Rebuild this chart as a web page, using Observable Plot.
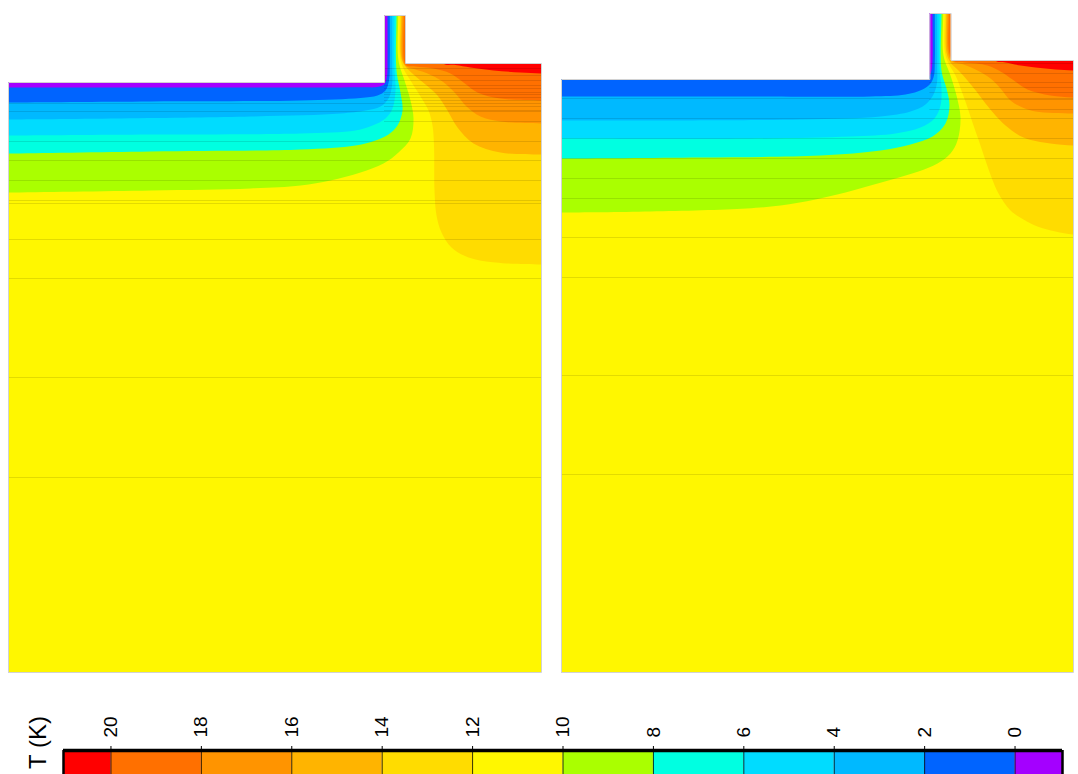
<!DOCTYPE html>
<html><head><meta charset="utf-8">
<script src="https://cdn.jsdelivr.net/npm/d3@7"></script>
<script src="https://cdn.jsdelivr.net/npm/@observablehq/plot@0.6"></script>
<style>
html,body{margin:0;padding:0;background:#fff;}
#fig{position:relative;width:1078px;height:774px;overflow:hidden;font-family:"Liberation Sans",Arial,sans-serif;}
#fig svg{position:absolute;left:0;}
</style></head><body><div id="fig"></div>
<script>
// ---------- temperature bands (K) ----------
const levels = [0, 2, 4, 6, 8, 10, 12, 14, 16, 18, 20];
const bandColors = ["#a400ff", "#0064ff", "#00b9ff", "#00dcff", "#00ffe1", "#aaff00",
                    "#fff700", "#ffdc00", "#ffb400", "#ff9400", "#ff7000", "#ff0000"];
const barMin = -1.05, barMax = 21.05;
const farFieldT = 11;

// ---------- panel 1 geometry (figure units) ----------
const p1Box = [8, 541, 15, 672];        // left, right, top, bottom
const p1Tops = [82, 63];                // top of cold part, top of warm part
const p1Stem = [384, 405];
// isotherms, panel 1 (cold side: from stem to left edge)
const p1Iso0  = [[387,15],[387,60],[386.5,76],[384,83.5],[378,86.3],[360,86.8],[200,87],[8,87]];
const p1Iso2  = [[389.3,15],[389.3,62],[388.5,80],[385,90],[377,95],[360,97.5],[300,100],[150,101],[8,102]];
const p1Iso4  = [[391.7,15],[391.7,65],[391.5,85],[388,98],[380,106],[365,110],[340,113],[250,116],[8,119]];
const p1Iso6  = [[394,15],[394,68],[395,90],[392,108],[385,118],[372,125],[355,130],[300,133],[150,134],[8,135]];
const p1Iso8  = [[396,15],[396,70],[400,92],[402,110],[397,125],[388,134],[375,140],[355,145],[300,149],[150,151],[8,153]];
const p1Iso10 = [[397.7,15],[398,60],[404,80],[410,100],[413,118],[410,138],[398,152],[383,163],[360,172],[330,180],[300,185],[250,188],[150,190],[8,192]];
// warm side: from stem / top edge to right edge
const p1Iso12 = [[399.3,15],[399.5,55],[402,66],[410,80],[420,96],[428,110],[432,125],[433.5,145],[434,190],[436,215],[441,232],[451,247],[468,257],[495,262],[541,264]];
const p1Iso14 = [[400.7,15],[401,58],[405,66],[413,74],[425,84],[437,95],[447,110],[457,127],[473,143],[500,152],[541,154]];
const p1Iso16 = [[402,15],[402.3,60],[406,66],[415,69],[427,73],[442,81],[455,93],[466,106],[480,116],[500,121],[541,123]];
const p1Iso18 = [[403.3,15],[403.5,60],[406,65],[415,66],[433,68],[450,73],[463,82],[477,92],[500,98],[541,100]];
const p1Iso20 = [[443,63],[455,64.5],[470,67],[493,70],[520,72],[541,73]];
const p1LinesFull  = [103, 111, 141, 160, 180, 200, 203, 239, 278, 377, 477];
const p1LinesRight = [68, 75, 80, 85, 88, 92, 94, 97, 100, 106, 110, 121];

// ---------- panel 2 geometry ----------
const p2Box = [561, 1073, 13, 672];
const p2Tops = [79, 60];
const p2Stem = [929.3, 950.7];
const p2Iso0  = [[932,13],[932,60],[931,70],[928,76],[900,76]];
const p2Iso2  = [[934.3,13],[934.3,62],[933.5,75],[930,83],[922,89],[905,94],[870,96],[750,96],[561,96]];
const p2Iso4  = [[936.7,13],[936.7,65],[936.5,82],[933,94],[925,104],[910,111],[880,116],[800,119],[561,120]];
const p2Iso6  = [[939,13],[939,68],[941,88],[940,105],[934,118],[920,127],[895,133],[850,136],[750,138],[561,138]];
const p2Iso8  = [[941,13],[941,70],[946,88],[949,105],[945,123],[932,136],[910,144],[880,150],[820,155],[700,157],[561,158]];
const p2Iso10 = [[942.7,13],[943,55],[950,75],[956,95],[960,117],[957,140],[950,153],[937,163],[918,171],[895,178],[870,185],[845,192],[815,199],[780,205],[746,208],[650,211],[561,212]];
const p2Iso12 = [[944.3,13],[944.5,52],[948,63],[955,75],[962,93],[968,110],[973,125],[979,142],[985,160],[991,177],[998,193],[1010,210],[1023,219],[1037,226],[1055,231],[1073,234]];
const p2Iso14 = [[945.7,13],[946,52],[950,62],[958,70],[967,80],[976,91],[985,103],[995,115],[1005,125],[1023,137],[1050,143],[1073,145]];
const p2Iso16 = [[947,13],[947.5,52],[952,61],[963,64],[977,70],[990,78],[1000,88],[1010,100],[1022,107],[1035,111],[1073,113]];
const p2Iso18 = [[948.3,13],[948.8,52],[953,60.5],[965,62],[987,65],[1000,71],[1012,79],[1027,89],[1050,95],[1073,97]];
const p2Iso20 = [[995,60],[1005,62],[1020,65],[1035,67],[1055,69],[1073,70]];
const p2LinesFull  = [98, 118, 138, 158, 178, 198, 237, 277, 375, 474];
const p2LinesRight = [63, 73, 82, 87, 92, 99, 109];

// ---------- helpers ----------
function bandRows(isos, side, box) {
  const [L, R] = box;
  const rows = [];
  isos.forEach(([level, pts]) => {
    const v = side === "cold" ? level - 1 : level + 1;
    const [x0, y0] = pts[0];
    const yn = pts[pts.length - 1][1];
    const xMid = side === "cold" ? L - 20 : R + 20;
    const xOut = side === "cold" ? L - 40 : R + 40;
    const ring = [[x0, y0 - 60], [x0, y0 - 30], ...pts, [xMid, yn], [xOut, yn], [xOut, y0 - 60]];
    ring.forEach(([x, y]) => rows.push({id: side + level, x, y, v}));
  });
  return rows;
}

function panel(cfg) {
  const {box, tops, stem, cold, warm, linesFull, linesRight} = cfg;
  const [L, R, T, B] = box;
  const H = 690;
  const voids = [
    {x1: L - 4, x2: stem[0], y1: T - 6, y2: tops[0]},
    {x1: stem[1], x2: R + 4, y1: T - 6, y2: tops[1]},
    {x1: L - 4, x2: R + 4, y1: T - 12, y2: T}
  ];
  const outline = [[L,B],[L,tops[0]],[stem[0],tops[0]],[stem[0],T],[stem[1],T],[stem[1],tops[1]],[R,tops[1]],[R,B],[L,B]];
  return Plot.plot({
    width: 1078, height: H,
    marginLeft: L, marginRight: 1078 - R, marginTop: T, marginBottom: H - B,
    x: {domain: [L, R], range: [L, R], axis: null},
    y: {domain: [T, B], range: [T, B], axis: null},
    color: {type: "threshold", domain: levels, range: bandColors},
    style: {background: "transparent"},
    marks: [
      Plot.rect([{x1: L, x2: R, y1: T, y2: B, v: farFieldT}], {x1: "x1", x2: "x2", y1: "y1", y2: "y2", fill: "v", clip: true}),
      Plot.line(bandRows(cold, "cold", box), {x: "x", y: "y", z: "id", fill: "v", stroke: "none", curve: "catmull-rom", clip: true}),
      Plot.line(bandRows(warm, "warm", box), {x: "x", y: "y", z: "id", fill: "v", stroke: "none", curve: "catmull-rom", clip: true}),
      Plot.ruleY(linesFull, {y: d => d, x1: () => L, x2: () => R, stroke: "#000", strokeOpacity: 0.11, clip: true}),
      Plot.ruleY(linesRight, {y: d => d, x1: () => stem[0], x2: () => R, stroke: "#000", strokeOpacity: 0.11, clip: true}),
      Plot.rect(voids, {x1: "x1", x2: "x2", y1: "y1", y2: "y2", fill: "white"}),
      Plot.line(outline, {x: d => d[0], y: d => d[1], stroke: "#d2d2d2", strokeWidth: 1})
    ]
  });
}

const fig = document.getElementById("fig");

const svg1 = panel({box: p1Box, tops: p1Tops, stem: p1Stem,
  cold: [[10,p1Iso10],[8,p1Iso8],[6,p1Iso6],[4,p1Iso4],[2,p1Iso2],[0,p1Iso0]],
  warm: [[12,p1Iso12],[14,p1Iso14],[16,p1Iso16],[18,p1Iso18],[20,p1Iso20]],
  linesFull: p1LinesFull, linesRight: p1LinesRight});
const svg2 = panel({box: p2Box, tops: p2Tops, stem: p2Stem,
  cold: [[10,p2Iso10],[8,p2Iso8],[6,p2Iso6],[4,p2Iso4],[2,p2Iso2],[0,p2Iso0]],
  warm: [[12,p2Iso12],[14,p2Iso14],[16,p2Iso16],[18,p2Iso18],[20,p2Iso20]],
  linesFull: p2LinesFull, linesRight: p2LinesRight});
svg1.style.top = "0px"; svg2.style.top = "0px";
fig.appendChild(svg1); fig.appendChild(svg2);

// ---------- colour bar ----------
const edges = [barMin, ...levels, barMax];
const barBins = edges.slice(0, -1).map((lo, i) => ({lo, hi: edges[i + 1], v: (lo + edges[i + 1]) / 2}));
const bar = Plot.plot({
  width: 1078, height: 84,
  marginLeft: 63, marginRight: 16, marginTop: 60, marginBottom: 0,
  x: {domain: [barMax, barMin], range: [63, 1062], axis: null},
  y: {domain: [0, 1], range: [60, 100], axis: null},
  color: {type: "threshold", domain: levels, range: bandColors},
  style: {fontFamily: "'Liberation Sans', Arial, sans-serif", color: "#000", background: "transparent"},
  marks: [
    Plot.rect(barBins, {x1: "lo", x2: "hi", y1: () => 0, y2: () => 1, fill: "v"}),
    Plot.ruleX(levels, {stroke: "#000", strokeWidth: 0.8, y1: () => 0, y2: () => 1}),
    Plot.ruleX([barMin, barMax], {stroke: "#000", strokeWidth: 2.5, y1: () => 0, y2: () => 1}),
    Plot.ruleY([0], {stroke: "#000", strokeWidth: 3.5}),
    Plot.axisX(levels, {anchor: "top", tickSize: 5, tickPadding: 8, tickRotate: -90, fontSize: 19, label: null}),
    Plot.text(["T (K)"], {frameAnchor: "top-left", text: d => d, rotate: -90, dx: -35, dy: -8, fontSize: 24, textAnchor: "middle", fill: "#000"})
  ]
});
bar.style.top = "690px";
fig.appendChild(bar);
</script>
</body></html>
